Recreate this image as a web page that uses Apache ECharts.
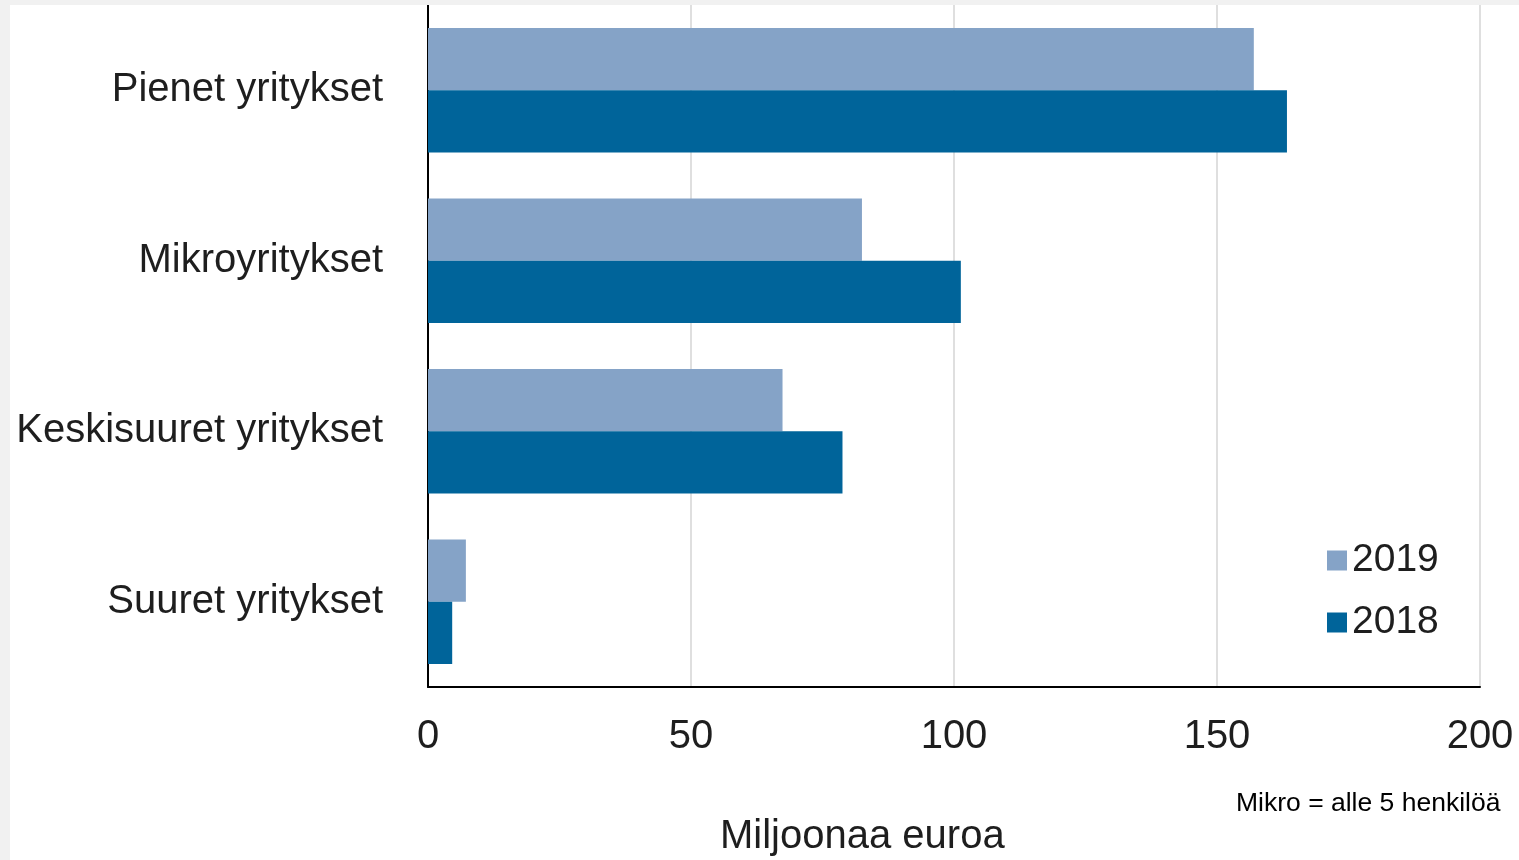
<!DOCTYPE html>
<html>
<head>
<meta charset="utf-8">
<script src="https://cdn.jsdelivr.net/npm/echarts@6/dist/echarts.min.js"></script>
<style>
html,body{margin:0;padding:0;background:#f1f1f1;width:1519px;height:860px;overflow:hidden;}
#chart{position:absolute;left:10px;top:5px;width:1509px;height:855px;background:#fff;}
</style>
</head>
<body>
<div id="chart"></div>
<script>
const categories = ['Pienet yritykset', 'Mikroyritykset', 'Keskisuuret yritykset', 'Suuret yritykset'];
const seriesNames = ['2019', '2018'];
const values2019 = [157.0, 82.5, 67.4, 7.2];
const values2018 = [163.3, 101.3, 78.8, 4.6];
const xTicks = [0, 50, 100, 150, 200];
const axisName = 'Miljoonaa euroa';
const note = 'Mikro = alle 5 henkilöä';

const chart = echarts.init(document.getElementById('chart'), null, {renderer: 'canvas'});
const font = '"Liberation Sans", Arial, sans-serif';
const txt = '#1e1e1e';
chart.setOption({
  backgroundColor: '#ffffff',
  animation: false,
  grid: {left: 418, right: 39, top: 0, bottom: 173, containLabel: false},
  legend: {
    orient: 'vertical',
    left: 1312, top: 531,
    itemWidth: 20, itemHeight: 20, itemGap: 23,
    icon: 'rect',
    data: seriesNames,
    textStyle: {fontFamily: font, fontSize: 39, color: txt}
  },
  xAxis: {
    type: 'value', min: xTicks[0], max: xTicks[xTicks.length - 1], interval: 50,
    axisLine: {show: true, onZero: false, lineStyle: {color: '#000', width: 2}},
    axisTick: {show: false},
    splitLine: {show: true, lineStyle: {color: '#d4d4d4', width: 1.5}},
    axisLabel: {fontFamily: font, fontSize: 40, color: txt, margin: 30,
      formatter: v => xTicks.includes(v) ? String(v) : ''}
  },
  yAxis: {
    type: 'category', data: categories, inverse: true,
    axisLine: {show: true, lineStyle: {color: '#000', width: 2}},
    axisTick: {show: false},
    axisLabel: {fontFamily: font, fontSize: 40, color: txt, margin: 45}
  },
  graphic: [
    {type: 'text', left: 710, top: 812, style: {text: axisName, font: '40px "Liberation Sans", Arial, sans-serif', fill: txt}},
    {type: 'text', left: 1226, top: 785, style: {text: note, font: '26.5px "Liberation Sans", Arial, sans-serif', fill: '#000'}}
  ],
  series: [
    {name: seriesNames[0], type: 'bar', data: values2019, barCategoryGap: '27%', barGap: '0%', itemStyle: {color: '#85a3c7'}},
    {name: seriesNames[1], type: 'bar', data: values2018, barCategoryGap: '27%', barGap: '0%', itemStyle: {color: '#00649a'}}
  ]
});
</script>
</body>
</html>
